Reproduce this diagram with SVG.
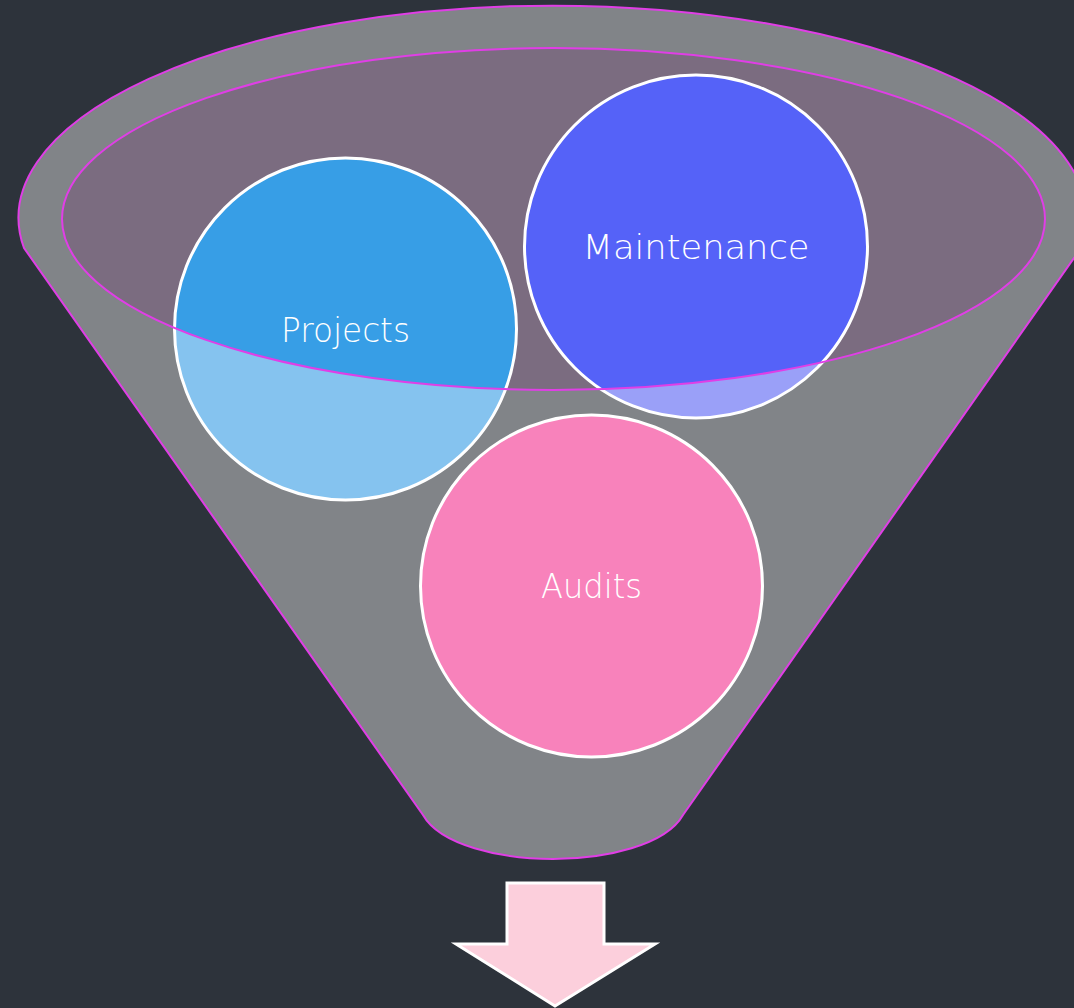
<svg xmlns="http://www.w3.org/2000/svg" width="1074" height="1008" viewBox="0 0 1074 1008">
  <style>
    .ring { stroke: #ffffff; stroke-width: 3; }
    .lbl { font-family: "DejaVu Sans", "Liberation Sans", sans-serif; font-size: 33px; font-weight: 300; fill: #ffffff; text-anchor: middle; }
    .rim { stroke: #e03ee6; stroke-width: 2; }
  </style>
  <defs>
    <clipPath id="inner">
      <ellipse cx="553.5" cy="219" rx="491.5" ry="171"/>
    </clipPath>
  </defs>
  <rect width="1074" height="1008" fill="#2d333b"/>
  <g id="funnel">
    <path class="rim" fill="#818488" d="M24,248 A534,212 0 1 1 1081,248 L683,815 C666,845 606,859 553,859 C500,859 440,845 423,815 Z"/>
    <ellipse cx="553.5" cy="219" rx="491.5" ry="171" fill="#7b6c80"/>
  </g>
  <g id="projects">
    <circle cx="345.5" cy="329" r="171" fill="#85c3ef"/>
    <circle cx="345.5" cy="329" r="171" fill="#379ee6" clip-path="url(#inner)"/>
    <circle class="ring" cx="345.5" cy="329" r="171" fill="none"/>
  </g>
  <g id="maintenance">
    <circle cx="696" cy="246.5" r="171.5" fill="#9aa0f8"/>
    <circle cx="696" cy="246.5" r="171.5" fill="#5562f8" clip-path="url(#inner)"/>
    <circle class="ring" cx="696" cy="246.5" r="171.5" fill="none"/>
  </g>
  <ellipse class="rim" cx="553.5" cy="219" rx="491.5" ry="171" fill="none"/>
  <g id="audits">
    <circle class="ring" cx="591.5" cy="586" r="171" fill="#f882bb"/>
  </g>
  <g id="labels">
    <text class="lbl" x="345.5" y="342" textLength="129" lengthAdjust="spacingAndGlyphs">Projects</text>
    <text class="lbl" x="696" y="259" textLength="227" lengthAdjust="spacingAndGlyphs">Maintenance</text>
    <text class="lbl" x="591.5" y="598" textLength="101" lengthAdjust="spacingAndGlyphs">Audits</text>
  </g>
  <g id="connectors">
    <polygon points="507,883 604,883 604,944 655,944 555,1006 456,944 507,944" fill="#fccfdc" stroke="#ffffff" stroke-width="3"/>
  </g>
</svg>
